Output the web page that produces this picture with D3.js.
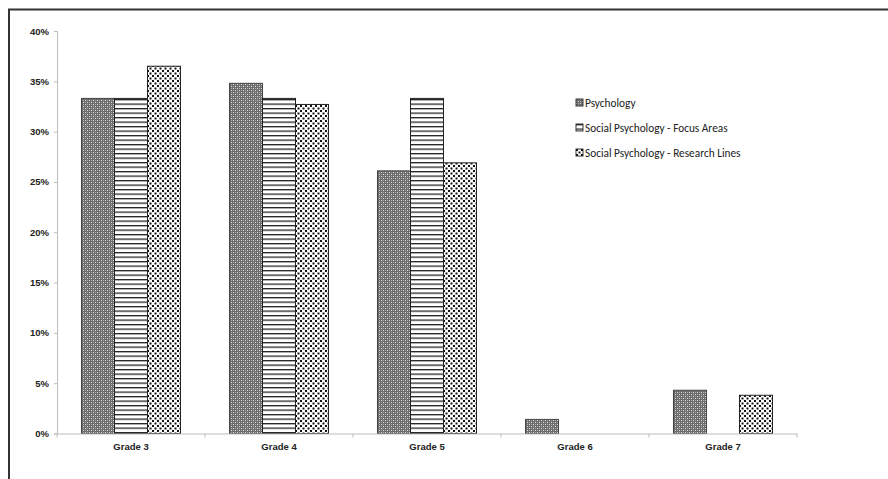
<!DOCTYPE html>
<html>
<head>
<meta charset="utf-8">
<script src="https://cdn.jsdelivr.net/npm/d3@7"></script>
<style>
  body { margin: 0; background: #fff; }
  svg { display: block; font-family: Carlito, "Open Sans", Lato, sans-serif; }
</style>
</head>
<body>
<svg id="chart" width="888" height="479"></svg>
<script>
// chart data
const grades = ["Grade 3", "Grade 4", "Grade 5", "Grade 6", "Grade 7"];
const seriesNames = ["Psychology", "Social Psychology - Focus Areas", "Social Psychology - Research Lines"];
const psychology = [33.3, 34.8, 26.1, 1.4, 4.3];
const focusAreas = [33.3, 33.3, 33.3, 0, 0];
const researchLines = [36.5, 32.7, 26.9, 0, 3.8];
const yTicks = [0, 5, 10, 15, 20, 25, 30, 35, 40];

const seriesValues = [psychology, focusAreas, researchLines];
const patternIds = ["pat-check", "pat-hlines", "pat-dots"];

const svg = d3.select("#chart");

// frame lines (top + left only)
svg.append("line").attr("x1", 8).attr("x2", 888).attr("y1", 9.5).attr("y2", 9.5)
  .attr("stroke", "#333").attr("stroke-width", 2);
svg.append("line").attr("x1", 9).attr("x2", 9).attr("y1", 9).attr("y2", 479)
  .attr("stroke", "#333").attr("stroke-width", 2);

// patterns
const defs = svg.append("defs");

// grey checker with lighter blotches
const pc = defs.append("pattern").attr("id", "pat-check")
  .attr("patternUnits", "userSpaceOnUse").attr("width", 4).attr("height", 4);
pc.append("rect").attr("width", 4).attr("height", 4).attr("fill", "#6c6c6c");
pc.append("rect").attr("x", 0).attr("y", 0).attr("width", 1).attr("height", 1).attr("fill", "#e0e0e0");
pc.append("rect").attr("x", 2).attr("y", 2).attr("width", 1).attr("height", 1).attr("fill", "#e0e0e0");
pc.append("rect").attr("x", 2).attr("y", 0).attr("width", 1).attr("height", 1).attr("fill", "#a8a8a8");
pc.append("rect").attr("x", 0).attr("y", 2).attr("width", 1).attr("height", 1).attr("fill", "#a8a8a8");

// horizontal lines
const ph = defs.append("pattern").attr("id", "pat-hlines")
  .attr("patternUnits", "userSpaceOnUse").attr("width", 8).attr("height", 4.5);
ph.append("rect").attr("width", 8).attr("height", 4.5).attr("fill", "#fff");
ph.append("rect").attr("y", 0).attr("width", 8).attr("height", 1.3).attr("fill", "#222");

// staggered dots
const pd = defs.append("pattern").attr("id", "pat-dots")
  .attr("patternUnits", "userSpaceOnUse").attr("width", 5).attr("height", 5);
pd.append("rect").attr("width", 5).attr("height", 5).attr("fill", "#fff");
pd.append("rect").attr("x", 0).attr("y", 0).attr("width", 2).attr("height", 2).attr("fill", "#111");
pd.append("rect").attr("x", 2.5).attr("y", 2.5).attr("width", 2).attr("height", 2).attr("fill", "#111");

// scales
const x = d3.scaleBand().domain(grades).range([57, 797]);
const xInner = d3.scaleBand().domain(d3.range(seriesNames.length))
  .range([24.5, x.bandwidth() - 24.5]);
const y = d3.scaleLinear().domain([0, 40]).range([433.5, 31]);

// y axis
const yAxis = svg.append("g").attr("transform", "translate(57,0)")
  .call(d3.axisLeft(y).tickValues(yTicks).tickSize(3).tickFormat(d => d + "%"));
yAxis.select(".domain").attr("stroke", "#bdbdbd");
yAxis.selectAll(".tick line").attr("stroke", "#bdbdbd");
yAxis.selectAll("text").attr("x", -8).attr("fill", "#222")
  .style("font-size", "9.5px").style("font-weight", "bold");

// bars
const groups = svg.selectAll("g.grade")
  .data(grades)
  .enter().append("g")
  .attr("class", "grade")
  .attr("transform", d => "translate(" + x(d) + ",0)");

groups.selectAll("rect")
  .data((g, gi) => seriesValues.map((vals, si) => ({ si: si, v: vals[gi] })).filter(d => d.v > 0))
  .enter().append("rect")
  .attr("x", d => xInner(d.si))
  .attr("y", d => y(d.v))
  .attr("width", xInner.bandwidth())
  .attr("height", d => y(0) - y(d.v))
  .attr("fill", d => "url(#" + patternIds[d.si] + ")")
  .attr("stroke", d => d.si === 0 ? "#444" : "#222")
  .attr("stroke-width", 1);

// x axis
const xAxis = svg.append("g").attr("transform", "translate(0,433.5)")
  .call(d3.axisBottom(x).tickSize(0).tickSizeOuter(0));
xAxis.select(".domain").attr("stroke", "#bdbdbd").attr("stroke-width", 1.2);
xAxis.selectAll(".tick line").remove();
xAxis.selectAll("text").attr("y", 10).attr("fill", "#222")
  .style("font-size", "9.5px").style("font-weight", "bold");
// boundary ticks between categories
xAxis.selectAll("line.sep")
  .data(grades.concat([null]))
  .enter().append("line")
  .attr("class", "sep")
  .attr("x1", (d, i) => i < grades.length ? x(d) : x.range()[1])
  .attr("x2", (d, i) => i < grades.length ? x(d) : x.range()[1])
  .attr("y1", 0).attr("y2", 4)
  .attr("stroke", "#bdbdbd");

// legend
const legend = svg.append("g").attr("transform", "translate(576,99)");
const items = legend.selectAll("g")
  .data(seriesNames)
  .enter().append("g")
  .attr("transform", (d, i) => "translate(0," + i * 25 + ")");
items.append("rect")
  .attr("width", 7).attr("height", 7)
  .attr("fill", (d, i) => "url(#" + patternIds[i] + ")")
  .attr("stroke", "#222").attr("stroke-width", 0.9);
items.append("text")
  .attr("x", 9).attr("y", 7.5)
  .attr("fill", "#222")
  .style("font-size", "11.3px")
  .text(d => d);
</script>
</body>
</html>
